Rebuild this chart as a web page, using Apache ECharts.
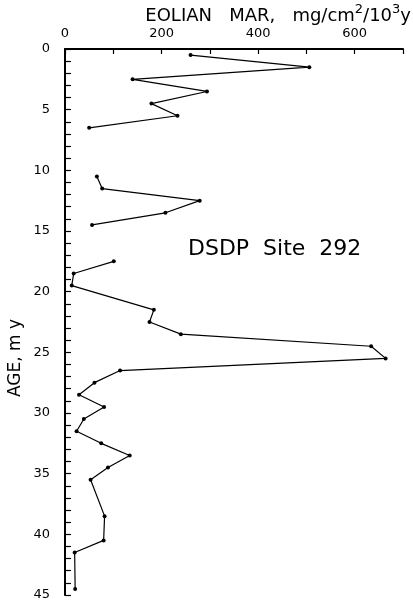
<!DOCTYPE html>
<html><head><meta charset="utf-8">
<script src="https://cdn.jsdelivr.net/npm/echarts@6/dist/echarts.min.js"></script>
<style>html,body{margin:0;padding:0;background:#fff}#c{width:413px;height:606px}</style>
</head><body><div id="c"></div>
<script>
// Segment 1 (0-7 my)
const ages1 = [0.5, 1.5, 2.5, 3.5, 4.5, 5.5, 6.5];
const mar1  = [260, 506, 140, 294, 179, 233, 50];
// Segment 2 (10-15 my)
const ages2 = [10.5, 11.5, 12.5, 13.5, 14.5];
const mar2  = [66, 77, 279, 208, 56];
// Segment 3 (17-45 my)
const ages3 = [17.5, 18.5, 19.5, 21.5, 22.5, 23.5, 24.5, 25.5, 26.5, 27.5, 28.5, 29.5, 30.5, 31.5, 32.5, 33.5, 34.5, 35.5, 38.5, 40.5, 41.5, 44.5];
const mar3  = [101, 18, 14, 184, 175, 240, 634, 664, 114, 61, 29, 81, 39, 24, 75, 134, 89, 53, 82, 80, 20, 21];
// Tick labels
const marTickLabels = [0, 200, 400, 600];
const ageTickLabels = [0, 5, 10, 15, 20, 25, 30, 35, 40, 45];

const FONT = 'DejaVu Sans';
const chart = echarts.init(document.getElementById('c'), null, {renderer: 'canvas'});

function seg(ages, vals) { return ages.map((a, i) => [vals[i], a]); }
function lineSeries(ages, vals) {
  return {
    type: 'line', data: seg(ages, vals), symbol: 'circle', symbolSize: 4,
    lineStyle: {color: '#000', width: 1.2}, itemStyle: {color: '#000'},
    silent: true, animation: false
  };
}

chart.setOption({
  animation: false,
  backgroundColor: '#fff',
  grid: {left: 65, right: 10, top: 49, bottom: 11, containLabel: false},
  xAxis: {
    type: 'value', position: 'top', min: 0, max: 700, interval: 100,
    axisLine: {show: true, lineStyle: {color: '#000', width: 2}},
    axisTick: {show: true, inside: true, length: 5, lineStyle: {color: '#000', width: 1.2}},
    axisLabel: {color: '#000', fontFamily: FONT, fontSize: 13, margin: 9,
      formatter: v => marTickLabels.includes(v) ? String(v) : ''},
    splitLine: {show: false}
  },
  yAxis: {
    type: 'value', inverse: true, min: 0, max: 45, interval: 1,
    axisLine: {show: true, lineStyle: {color: '#000', width: 2}},
    axisTick: {show: true, inside: true, length: 6, lineStyle: {color: '#000', width: 1.2}},
    axisLabel: {color: '#000', fontFamily: FONT, fontSize: 13, margin: 15,
      formatter: v => ageTickLabels.includes(v) ? String(v) : ''},
    splitLine: {show: false}
  },
  series: [lineSeries(ages1, mar1), lineSeries(ages2, mar2), lineSeries(ages3, mar3)],
  graphic: [
    {
      type: 'text', right: 2, top: 3,
      style: {
        text: '{a|EOLIAN   MAR,   mg/cm}{s|2}{a|/10}{s|3}{a|y}',
        rich: {
          a: {fontFamily: FONT, fontSize: 18, fill: '#000', lineHeight: 22, verticalAlign: 'bottom'},
          s: {fontFamily: FONT, fontSize: 13, fill: '#000', lineHeight: 14, verticalAlign: 'top'}
        }
      }
    },
    {
      type: 'text', left: 188, top: 238,
      style: {text: 'DSDP  Site  292', fontFamily: FONT, fontSize: 22, fill: '#000'}
    },
    {
      type: 'text', x: 16, y: 358, rotation: Math.PI / 2,
      style: {text: 'AGE, m y', fontFamily: FONT, fontSize: 17, fill: '#000', align: 'center', verticalAlign: 'middle'}
    }
  ]
});
</script></body></html>
